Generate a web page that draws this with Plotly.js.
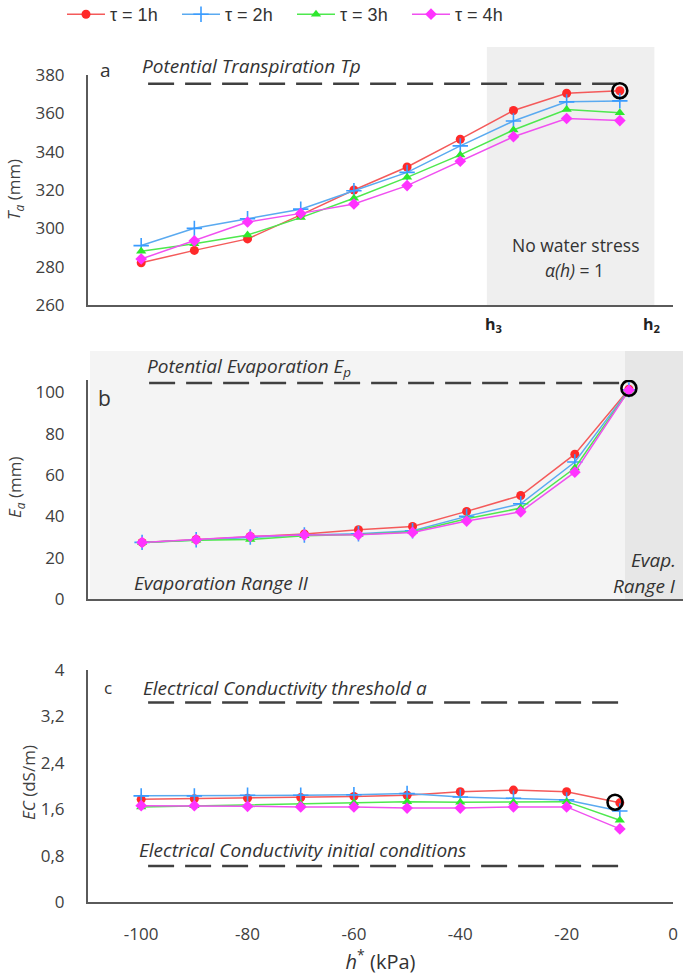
<!DOCTYPE html>
<html>
<head>
<meta charset="utf-8">
<script src="https://cdn.plot.ly/plotly-3.0.1.min.js"></script>
<style>html,body{margin:0;padding:0;background:#fff;}#chart{width:685px;height:978px;}</style>
</head>
<body>
<div id="chart"></div>
<script>
// ---------- data ----------
const hStar = [-100, -90, -80, -70, -60, -50, -40, -30, -20, -10];
const seriesNames = ["τ = 1h", "τ = 2h", "τ = 3h", "τ = 4h"];

// Panel a: actual transpiration Ta (mm)
const Ta_1h = [282, 288.5, 294.5, 307, 320, 332, 346.5, 361.5, 370.5, 371.8];
const Ta_2h = [291, 300, 305, 310, 319.6, 329.2, 343, 356, 366, 366.5];
const Ta_3h = [288, 292, 296.5, 305.6, 315.7, 326.6, 338.3, 351.3, 362, 360.3];
const Ta_4h = [284, 293.5, 303.3, 307.8, 312.7, 322.3, 335, 347.8, 357.3, 356.2];
const Tp = 375.5;

// Panel b: actual evaporation Ea (mm)
const Ea_1h = [27.4, 28.8, 30.3, 31.5, 33.5, 35.1, 42.4, 50.1, 70.1, 101.5];
const Ea_2h = [27.4, 28.7, 30.0, 31.0, 31.6, 33.0, 40.0, 46.1, 66.3, 101.2];
const Ea_3h = [27.4, 28.4, 28.8, 30.6, 31.2, 32.6, 38.8, 44.0, 63.4, 101.0];
const Ea_4h = [27.4, 28.7, 30.3, 31.0, 31.1, 32.2, 37.7, 42.2, 61.4, 101.0];
const Ep = 104.5;

// Panel c: electrical conductivity EC (dS/m)
const EC_1h = [1.77, 1.78, 1.79, 1.80, 1.82, 1.84, 1.90, 1.93, 1.90, 1.71];
const EC_2h = [1.83, 1.83, 1.84, 1.84, 1.85, 1.87, 1.81, 1.79, 1.76, 1.57];
const EC_3h = [1.64, 1.66, 1.67, 1.69, 1.71, 1.73, 1.72, 1.72, 1.73, 1.41];
const EC_4h = [1.66, 1.66, 1.65, 1.64, 1.64, 1.62, 1.62, 1.64, 1.64, 1.26];
const ECthreshold = 3.44;
const ECinitial = 0.62;

// reference (dashed) line extents and highlighted points
const refX_a = [-98.7, -10.5];
const refX_b = [-98.7, -11.5];
const refX_c = [-98.7, -10];
const hiX = [-10];
const hiTa = [371.8];
const hiEa = [102];
const hiEC = [1.72];
const hiXc = [-10.9];

const xTickVals = [-100, -80, -60, -40, -20, 0];
const xTickText = ["-100", "-80", "-60", "-40", "-20", "0"];
const ecTickVals = [0, 0.8, 1.6, 2.4, 3.2, 4];
const ecTickText = ["0", "0,8", "1,6", "2,4", "3,2", "4"];

// ---------- geometry helpers ----------
const W = 685, H = 978, L = 88;
const px = v => (v - L) / (W - L);
const py = v => 1 - v / H;

const colors = ["#ff2a2a", "#3a9cff", "#2ee82e", "#ff33ff"];
const lineColors = ["#f45a5a", "#5aaaf0", "#4ee84e", "#f050f0"];
const markers = [
  {symbol: "circle", size: 9},
  {symbol: "cross-thin", size: 11},
  {symbol: "triangle-up", size: 9},
  {symbol: "diamond", size: 9}
];

const traces = [];
function addSeries(ys, xa, ya, legend) {
  ys.forEach((y, i) => {
    const m = Object.assign({color: colors[i]}, markers[i]);
    if (i === 1) m.line = {width: 1.6, color: colors[1]};
    traces.push({
      x: hStar, y: y, xaxis: xa, yaxis: ya,
      mode: "lines+markers", name: seriesNames[i],
      legendgroup: "g" + i, showlegend: legend,
      line: {color: lineColors[i], width: 1.5},
      marker: m, hoverinfo: "x+y"
    });
  });
}
function addRef(xs, val, xa, ya) {
  traces.push({x: xs, y: [val, val], xaxis: xa, yaxis: ya, mode: "lines",
    showlegend: false, hoverinfo: "skip",
    line: {color: "#404040", width: 2.5, dash: "26px,11px"}});
}
function addHi(xs, ys, xa, ya) {
  traces.push({x: xs, y: ys, xaxis: xa, yaxis: ya, mode: "markers",
    showlegend: false, hoverinfo: "skip",
    marker: {symbol: "circle-open", size: 15, color: "#000", line: {width: 2.6, color: "#000"}}});
}

addRef(refX_a, Tp, "x", "y");
addRef(refX_b, Ep, "x2", "y2");
addRef(refX_c, ECthreshold, "x3", "y3");
addRef(refX_c, ECinitial, "x3", "y3");
addSeries([Ta_1h, Ta_2h, Ta_3h, Ta_4h], "x", "y", true);
addSeries([Ea_1h, Ea_2h, Ea_3h, Ea_4h], "x2", "y2", false);
addSeries([EC_1h, EC_2h, EC_3h, EC_4h], "x3", "y3", false);
addHi(hiX, hiTa, "x", "y");
addHi(hiX, hiEa, "x2", "y2");
addHi(hiXc, hiEC, "x3", "y3");

const FONT = "Open Sans, Noto Sans, sans-serif";
const tickFont = {family: FONT, size: 17, color: "#404040"};
const axBase = {showgrid: false, zeroline: false, showline: true, linecolor: "#5a5a5a",
  linewidth: 2, ticks: "", tickfont: tickFont, fixedrange: true};

const layout = {
  width: W, height: H,
  margin: {l: L, r: 0, t: 0, b: 0, autoexpand: false},
  paper_bgcolor: "#fff", plot_bgcolor: "rgba(0,0,0,0)",
  font: {family: FONT, color: "#333"},
  showlegend: true,
  legend: {orientation: "h", x: px(62), xanchor: "left", y: py(-4), yanchor: "top",
    itemwidth: 38, entrywidth: 62, entrywidthmode: "pixels", bgcolor: "rgba(0,0,0,0)",
    font: {family: "Liberation Sans, Arial, sans-serif", size: 18, color: "#333"}},
  xaxis: Object.assign({}, axBase, {domain: [0, px(673)], range: [-110, 0], showticklabels: false, anchor: "y"}),
  yaxis: Object.assign({}, axBase, {domain: [py(305), py(75)], range: [260, 380], dtick: 20,
    ticklabelstandoff: 18, anchor: "x"}),
  xaxis2: Object.assign({}, axBase, {domain: [0, px(683)], range: [-110, 0], showticklabels: false, anchor: "y2"}),
  yaxis2: Object.assign({}, axBase, {domain: [py(599), py(380)], range: [0, 106], tickvals: [0, 20, 40, 60, 80, 100],
    ticklabelstandoff: 18, anchor: "x2"}),
  xaxis3: Object.assign({}, axBase, {domain: [0, px(673)], range: [-110, 0], tickvals: xTickVals, ticktext: xTickText,
    ticklabelstandoff: 16, anchor: "y3",
    title: {text: "<i>h</i><sup>*</sup> (kPa)", standoff: 2, font: {family: FONT, size: 20, color: "#333"}}}),
  yaxis3: Object.assign({}, axBase, {domain: [py(902), py(670)], range: [0, 4], tickvals: ecTickVals, ticktext: ecTickText,
    ticklabelstandoff: 18, anchor: "x3"}),
  shapes: [
    {type: "rect", xref: "x", yref: "paper", x0: -35, x1: -3.5, y0: py(305), y1: py(47),
      fillcolor: "#efefef", line: {width: 0}, layer: "below"},
    {type: "rect", xref: "paper", yref: "paper", x0: px(90), x1: px(683), y0: py(599), y1: py(351),
      fillcolor: "#f4f4f4", line: {width: 0}, layer: "below"},
    {type: "rect", xref: "paper", yref: "paper", x0: px(625), x1: px(683), y0: py(599), y1: py(351),
      fillcolor: "#e7e7e7", line: {width: 0}, layer: "below"}
  ],
  annotations: []
};

function ann(text, x, y, opts) {
  layout.annotations.push(Object.assign({text: text, xref: "paper", yref: "paper", x: px(x), y: py(y),
    showarrow: false, xanchor: "left", yanchor: "middle",
    font: {family: FONT, size: 14, color: "#333"}}, opts || {}));
}
const it = {family: FONT, size: 19, color: "#333"};
const titleFont = {family: FONT, size: 17, color: "#404040"};
// y-axis titles
ann("<i>T<sub>a</sub></i> (mm)", 14, 190, {textangle: -90, xanchor: "center", font: titleFont});
ann("<i>E<sub>a</sub></i> (mm)", 15, 488, {textangle: -90, xanchor: "center", font: titleFont});
ann("<i>EC</i> (dS/m)", 28, 783, {textangle: -90, xanchor: "center", font: titleFont});
// panel a
ann("a", 98, 70, {font: {family: FONT, size: 19, color: "#333"}});
ann("<i>Potential Transpiration Tp</i>", 140, 66, {font: it});
ann("No water stress", 576, 245, {xanchor: "center", font: {family: FONT, size: 17.5, color: "#333"}});
ann("<i>α(h)</i> = 1", 574, 270, {xanchor: "center", font: {family: FONT, size: 17.5, color: "#333"}});
ann("<b>h<sub>3</sub></b>", 493, 324, {xanchor: "center", font: {family: FONT, size: 16, color: "#222"}});
ann("<b>h<sub>2</sub></b>", 652, 324, {xanchor: "center", font: {family: FONT, size: 16, color: "#222"}});
// panel b
ann("b", 96, 398, {font: {family: FONT, size: 21, color: "#333"}});
ann("<i>Potential Evaporation E<sub>p</sub></i>", 145, 367, {font: it});
ann("<i>Evaporation Range II</i>", 132, 583, {font: it});
ann("<i>Evap.</i>", 678, 560, {xanchor: "right", font: it});
ann("<i>Range I</i>", 678, 586, {xanchor: "right", font: it});
// panel c
ann("c", 102, 687, {font: {family: FONT, size: 17, color: "#333"}});
ann("<i>Electrical Conductivity threshold a</i>", 141, 688, {font: it});
ann("<i>Electrical Conductivity initial conditions</i>", 137, 850, {font: it});

Plotly.newPlot("chart", traces, layout, {displayModeBar: false, staticPlot: true});
</script>
</body>
</html>
